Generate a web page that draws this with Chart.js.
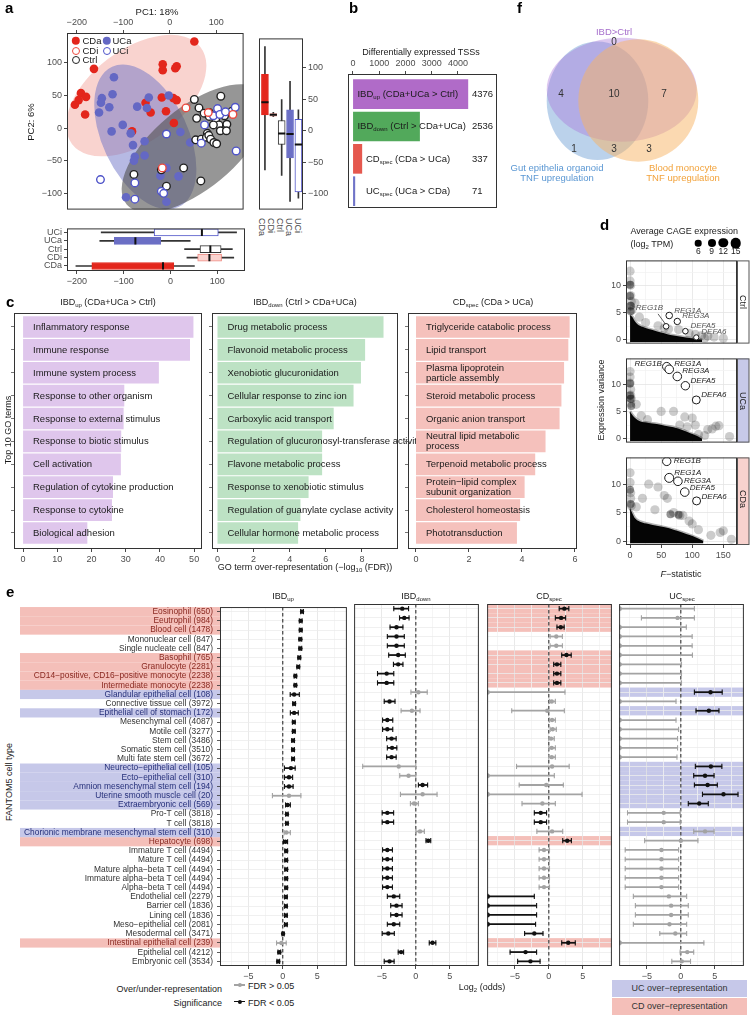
<!DOCTYPE html>
<html lang="en">
<head>
<meta charset="UTF-8">
<title>IBD CAGE expression figure</title>
<script src="https://cdn.jsdelivr.net/npm/chart.js"></script>
<style>
  body { margin: 0; background: #fff; }
  #fig { position: relative; width: 750px; height: 1015px; overflow: hidden; font-family: "Liberation Sans", Arial, Helvetica, sans-serif; color: #1a1a1a; }
  #fig canvas { position: absolute; }
  .t { position: absolute; white-space: nowrap; font-size: 9px; line-height: 1.15; }
  .t sub { font-size: 6px; vertical-align: -2px; line-height: 0; }
  .pl { font-weight: bold; font-size: 15px; color: #000; }
  .dot { position: absolute; border-radius: 50%; transform: translate(-50%, -50%); box-sizing: border-box; }
  .box { position: absolute; font-size: 9px; color: #333; text-align: center; }
</style>
</head>
<body>
<div id="fig"></div>
<script>
// ---------- a: PCA (PC1, PC2) ----------
const pcaCDa = [[53,133],[-163,91],[-15,98],[-15,89],[15,95],[12,92],[-191,54],[-196,43],[-204,36],[-180,48],[-182,21],[-52,39],[-41,24],[-17,47],[-8,26],[8,46],[15,43],[9,8],[-81,-5],[-16,-63]];
const pcaCDi = [[35,31],[83,24],[136,21],[-16,-61]];
const pcaUCa = [[-120,78],[-123,52],[-146,46],[-148,39],[-152,24],[-130,32],[-70,33],[-45,47],[-49,31],[-2,50],[-101,5],[-125,-5],[-84,-8],[-79,-26],[-54,-20],[23,-6],[44,-22],[-75,-44],[-77,-50],[-54,-42],[-7,-61],[-20,-73],[19,-74],[-94,-106],[-7,-113]];
const pcaUCi = [[-149,-79],[-75,-84],[-75,-109],[-18,-97],[-13,-100],[-7,-9],[68,-23],[75,5],[103,30],[94,19],[108,21],[120,25],[141,32],[143,-35]];
const pcaCtrl = [[53,44],[63,31],[74,23],[85,24],[110,49],[58,15],[85,18],[99,14],[118,19],[106,5],[123,6],[94,5],[109,-4],[122,-4],[81,-8],[56,-18],[68,-17],[79,-14],[84,-11],[88,-17],[95,-22],[101,-24],[134,26],[-77,-71],[-18,-64],[30,-61],[-7,-89],[67,-81]];
// confidence ellipses: centre and two conjugate semi-axes, in PC units
const pcaEllipses = [
  { group: 'CDa', c: [-72, 50], u: [138, 74.6], v: [61, -56] },
  { group: 'UCa', c: [-52.5, -13.4], u: [71.4, -107.7], v: [-83.5, -27.4] },
  { group: 'Ctrl', c: [53, -31], u: [145.6, 86], v: [57, -47.8] }
];
const boxGroups = ['CDa', 'CDi', 'Ctrl', 'UCa', 'UCi'];
const pc2Min = [-62, 22, -71, -112, -107];
const pc2Q1 = [25, 23, -22, -43, -97];
const pc2Med = [45, 25, -4.5, -5.4, -22];
const pc2Q3 = [89, 27, 16, 33, 18];
const pc2Max = [133, 29, 49, 78, 33];
const pc1Min = [-202, 35, 30, -151, -148];
const pc1Q1 = [-168, 58, 63, -120, -35];
const pc1Med = [-16, 83, 85, -75, 67];
const pc1Q3 = [7, 109, 108, -21, 102];
const pc1Max = [51, 135, 132, 42, 141];

// ---------- b: differentially expressed TSSs ----------
const degBase = ['IBD', 'IBD', 'CD', 'UC'];
const degSub = ['up', 'down', 'spec', 'spec'];
const degDesc = ['(CDa+UCa > Ctrl)', '(Ctrl > CDa+UCa)', '(CDa > UCa)', '(UCa > CDa)'];
const degCounts = [4376, 2536, 337, 71];
const degTicks = [0, 1000, 2000, 3000, 4000];

// ---------- f: Venn ----------
const vennSets = ['IBD&gt;Ctrl', 'Gut epithelia organoid<br>TNF upregulation', 'Blood monocyte<br>TNF upregulation'];
const vennCounts = [0, 4, 10, 7, 1, 3, 3];

// ---------- c: top 10 GO terms ----------
const goUpTerms = [['Inflammatory response'], ['Immune response'], ['Immune system process'], ['Response to other organism'], ['Response to external stimulus'], ['Response to biotic stimulus'], ['Cell activation'], ['Regulation of cytokine production'], ['Response to cytokine'], ['Biological adhesion']];
const goUpScore = [49.7, 48.7, 39.6, 29.5, 29.3, 28.6, 28.5, 26.2, 25.9, 18.7];
const goDownTerms = [['Drug metabolic process'], ['Flavonoid metabolic process'], ['Xenobiotic glucuronidation'], ['Cellular response to zinc ion'], ['Carboxylic acid transport'], ['Regulation of glucuronosyl-transferase activity'], ['Flavone metabolic process'], ['Response to xenobiotic stimulus'], ['Regulation of guanylate cyclase activity'], ['Cellular hormone metabolic process']];
const goDownScore = [9.18, 8.16, 7.93, 7.52, 6.42, 5.78, 5.78, 5.03, 4.58, 4.45];
const goCDTerms = [['Triglyceride catabolic process'], ['Lipid transport'], ['Plasma lipoprotein', 'particle assembly'], ['Steroid metabolic process'], ['Organic anion transport'], ['Neutral lipid metabolic', 'process'], ['Terpenoid metabolic process'], ['Protein\u2212lipid complex', 'subunit organization'], ['Cholesterol homeostasis'], ['Phototransduction']];
const goCDScore = [5.79, 5.74, 5.58, 5.48, 5.41, 4.88, 4.49, 4.09, 3.92, 3.8];

// ---------- d: F-statistic vs expression variance ----------
const dGenes = ['REG1B', 'REG1A', 'REG3A', 'DEFA5', 'DEFA6'];
const ctrlGeneF = [58, 63, 76, 89, 106.5], ctrlGeneVar = [2.5, 4.5, 3.4, 1.6, 0.45];
const ucaGeneF = [59, 63, 76, 89, 106.5], ucaGeneVar = [13.2, 12.7, 11.4, 9.7, 7.1];
const cdaGeneF = [59, 63, 77, 88, 107], cdaGeneVar = [14.0, 11.1, 10.5, 8.6, 7.05];
const ctrlGeneSize = [2.8, 3.3, 3.2, 2.8, 2.6], ucaGeneSize = [4.2, 4.3, 4.3, 4.2, 4.0], cdaGeneSize = [4.2, 4.5, 4.3, 4.3, 4.0];
const ctrlCloud = [[0,4.6],[4,4.2],[8,3.4],[12,2.9],[20,2.4],[30,2.0],[40,1.7],[50,1.35],[60,1.05],[70,0.8],[80,0.6],[90,0.45],[100,0.3],[110,0.15],[116,0]];
const ucaCloud = [[0,5.0],[4,4.3],[8,3.8],[16,3.2],[30,2.9],[43,2.7],[56,2.4],[70,2.1],[84,1.6],[97,1.0],[106,0.6],[113,0.2],[116,0]];
const cdaCloud = [[0,5.8],[4,4.8],[8,4.0],[16,3.4],[30,3.0],[43,2.7],[56,2.4],[70,2.0],[84,1.5],[97,1.0],[106,0.6],[113,0.25],[118,0]];
const ctrlGrey = [[0,12.7],[0,10.9],[1,10.1],[1,8.2],[2,7.1],[1,6.2],[8,6.8],[3,5.5],[15,4.2],[25,3.2],[45,2.6],[55,2.2],[62,2.0],[78,1.9],[95,1.2],[105,1.0],[115,0.8],[125,0.7],[135,0.5],[150,0.3],[120,0.3]];
const ctrlDark = [[0,10.2],[0,8.1],[1,6.3],[1,5.3]];
const ucaGrey = [[0,12.3],[0,11.3],[0,10.2],[1,9.0],[1,8.0],[2,7.3],[1,6.5],[10,6.3],[18,4.2],[28,3.5],[50,5.0],[70,5.0],[88,4.0],[100,3.8],[80,2.5],[92,2.2],[105,2.5],[125,1.7],[132,1.8],[138,2.3],[143,2.4],[160,0.4],[110,0.8],[120,0.6]];
const ucaDark = [[0,10.1],[0,7.9],[1,7.3],[2,6.0]];
const cdaGrey = [[0,12.0],[0,10.3],[1,8.5],[1,7.5],[2,6.2],[30,10.0],[45,9.5],[55,8.0],[60,7.5],[20,7.5],[10,6.0],[40,5.5],[70,5.0],[80,4.5],[85,4.5],[95,3.5],[100,3.0],[130,1.0],[145,1.5],[150,1.8],[163,0.3],[110,2.0]];
const cdaDark = [[0,9.0],[1,6.5],[65,4.7],[78,4.6]];

// ---------- e: FANTOM5 cell type enrichment, log2 odds ----------
const cellTypes = ['Eosinophil (650)','Eeutrophil (984)','Blood cell (1478)','Mononuclear cell (847)','Single nucleate cell (847)','Basophil (765)','Granulocyte (2281)','CD14\u2212positive, CD16\u2212positive monocyte (2238)','Intermediate monocyte (2238)','Glandular epithelial cell (108)','Connective tissue cell (3972)','Epithelial cell of stomach (172)','Mesenchymal cell (4087)','Motile cell (3277)','Stem cell (3486)','Somatic stem cell (3510)','Multi fate stem cell (3672)','Neurecto\u2212epithelial cell (105)','Ecto\u2212epithelial cell (310)','Amnion mesenchymal stem cell (194)','Uterine smooth muscle cell (20)','Extraembryonic cell (569)','Pro-T cell (3818)','T cell (3818)','Chorionic membrane mesenchymal stem cell (310)','Hepatocyte (698)','Immature T cell (4494)','Mature T cell (4494)','Mature alpha\u2212beta T cell (4494)','Immature alpha\u2212beta T cell (4494)','Alpha\u2212beta T cell (4494)','Endothelial cell (2279)','Barrier cell (1836)','Lining cell (1836)','Meso\u2212epithelial cell (2081)','Mesodermal cell (3471)','Intestinal epithelial cell (239)','Epithelial cell (4212)','Embryonic cell (3534)'];
const cdRows = [1, 2, 3, 6, 7, 8, 9, 26, 37];
const ucRows = [10, 12, 18, 19, 20, 21, 22, 25];
const upEst = [2.8,2.6,2.6,2.55,2.55,2.4,2.25,1.83,1.83,1.65,1.65,1.65,1.6,1.6,1.5,1.5,1.5,1.18,0.9,0.9,0.9,0.7,0.6,0.6,0.52,0.38,0.5,0.5,0.5,0.5,0.5,0.45,0.45,0.45,0.45,0.05,-0.2,-0.5,-0.65];
const upLo = [2.6,2.4,2.4,2.35,2.35,2.2,2.05,1.65,1.65,1.08,1.45,1.1,1.4,1.4,1.3,1.3,1.3,0.24,0.24,0.24,-1.5,0.4,0.42,0.42,0.2,0.1,0.3,0.3,0.3,0.3,0.3,0.25,0.25,0.25,0.25,-0.1,-0.9,-0.7,-0.85];
const upHi = [3.0,2.8,2.8,2.75,2.75,2.6,2.45,2.01,2.01,2.4,1.85,2.25,1.8,1.8,1.7,1.7,1.7,1.8,1.43,1.5,2.63,1.1,0.78,0.78,1.1,0.7,0.7,0.7,0.7,0.7,0.7,0.65,0.65,0.65,0.65,0.2,0.5,-0.3,-0.45];
const upSig = [1,1,1,1,1,1,1,1,1,1,1,1,1,1,1,1,1,1,1,1,0,1,1,1,0,1,1,1,1,1,1,1,1,1,1,1,0,1,1];
const downEst = [-2.0,-1.7,-2.85,-2.85,-2.85,-2.6,-2.6,-4.3,-4.3,0.38,-3.87,-0.58,-4.2,-4.2,-3.58,-3.5,-3.58,-2.52,-1.07,1.0,1.0,-0.25,-4.2,-4.2,0.62,1.83,-4.2,-4.2,-4.2,-4.2,-4.2,-3.25,-2.85,-2.85,-3.25,-4.06,2.46,-2.17,-3.87];
const downLo = [-3.25,-2.4,-3.8,-4.2,-4.2,-4.0,-3.3,-5.65,-5.65,-0.72,-4.66,-2.17,-4.9,-4.9,-4.3,-4.2,-4.3,-7.83,-2.37,0.38,-2.27,-0.8,-4.96,-4.96,0,1.5,-4.9,-4.9,-4.9,-4.9,-4.9,-4.2,-3.7,-3.7,-4.2,-4.96,1.98,-2.6,-4.66];
const downHi = [-1.07,-1.0,-1.9,-1.7,-1.7,-1.55,-1.9,-3.25,-3.25,1.68,-3.07,0.62,-3.4,-3.4,-2.9,-2.8,-2.9,0,0,1.74,3.13,0.38,-3.27,-3.27,1.26,2.2,-3.45,-3.45,-3.45,-3.45,-3.45,-2.37,-2.03,-2.03,-2.37,-3.17,2.95,-1.8,-3.2];
const downSig = [1,1,1,1,1,1,1,1,1,0,1,0,1,1,1,1,1,0,0,1,0,0,1,1,0,1,1,1,1,1,1,1,1,1,1,1,1,1,1];
const cdEst = [2.29,1.81,1.76,1.1,1.1,2.6,1.2,1.2,1.2,-9,0.43,-0.23,0.48,0.57,0.33,0.43,0.43,0.48,-9,-0.38,-9,-0.95,-1.19,-1.19,0.48,2.71,-0.71,-0.71,-0.71,-0.71,-0.71,-9,-9,-9,-9,-2.14,2.86,-3.43,-2.71];
const cdLo = [1.53,0.96,1.2,0.19,0.19,1.9,0.72,0.72,0.72,-9,0.11,-5.47,0.11,0.2,0.0,0.0,0.0,-4.76,-9,-4.37,-9,-3.95,-2.14,-2.14,-1.76,2.05,-1.43,-1.43,-1.43,-1.43,-1.43,-9,-9,-9,-9,-3.57,1.9,-5.71,-4.6];
const cdHi = [2.95,2.48,2.26,2.0,2.0,3.3,1.77,1.77,1.77,2.38,0.96,2.29,0.96,1.1,0.8,0.96,0.96,3.0,0.81,2.14,4.9,0.96,-0.33,-0.33,2.05,3.33,0.1,0.1,0.1,0.1,0.1,-2.14,-1.8,-1.8,-1.95,-0.86,3.9,-1.8,-1.29];
const cdSig = [1,1,1,0,0,1,1,1,1,0,0,0,0,0,0,0,0,0,0,0,0,0,1,1,0,1,0,0,0,0,0,1,1,1,1,1,1,1,1];
const ucEst = [-9,-0.48,-9,-9,-9,-9,-9,-9,-9,4.38,-9,4.14,-9,-9,-9,-9,-9,4.43,3.57,3.95,6.29,2.71,-2.52,-2.52,3.57,0,-2.86,-2.86,-2.86,-2.86,-2.86,-1.76,-1.43,-1.43,-1.67,-0.81,-9,0.95,0.14];
const ucLo = [-9,-5.81,-9,-9,-9,-9,-9,-9,-9,2.0,-9,2.24,-9,-9,-9,-9,-9,2.14,1.9,2.0,3.19,1.1,-7.86,-7.86,1.9,-5.33,-8.2,-8.2,-8.2,-8.2,-8.2,-7.0,-6.7,-6.7,-7.0,-3.1,-9,-0.1,-1.33];
const ucHi = [2.0,2.0,0.81,1.67,1.67,1.71,0.1,0.1,0.1,6.1,-0.71,5.62,-0.71,-0.33,-0.48,-0.48,-0.57,6.05,4.9,5.38,8.43,4.05,-0.1,-0.1,4.9,2.52,-0.33,-0.33,-0.33,-0.33,-0.33,0.86,1.1,1.1,0.86,0.86,3.4,1.9,1.43];
const ucSig = [0,0,0,0,0,0,0,0,0,1,0,1,0,0,0,0,0,1,1,1,1,1,0,0,0,0,0,0,0,0,0,0,0,0,0,0,0,0,0];

// ---------- styles ----------
const COL = { CDa: '#e3261c', CDi: '#ec4a3f', Ctrl: '#222', UCa: '#6468c4', UCi: '#4f54c9' };
const ELL_COL = { CDa: 'rgba(238,140,130,0.38)', UCa: 'rgba(110,115,200,0.5)', Ctrl: 'rgba(80,80,80,0.6)' };
const BOX_FILL = { CDa: '#e3261c', CDi: '#fbd3cf', Ctrl: '#fff', UCa: '#6b6fc5', UCi: '#fff' };
const BOX_LINE = { CDa: '#e3261c', CDi: '#ee8a82', Ctrl: '#333', UCa: '#6b6fc5', UCi: '#4f54c9' };
const DEG_COL = ['#b06bc8', '#52a95b', '#e5584e', '#7074c8'];
const VENN_COL = ['rgba(165,110,215,0.38)', 'rgba(120,165,215,0.5)', 'rgba(248,180,100,0.5)'];
const CD_BAND = '#f4bfb9', UC_BAND = '#c6c8e9';

const fig = document.getElementById('fig');
Chart.defaults.font.family = '"Liberation Sans", Arial, Helvetica, sans-serif';
Chart.defaults.font.size = 9;
Chart.defaults.color = '#4d4d4d';
Chart.defaults.plugins.legend.display = false;
Chart.defaults.plugins.tooltip.enabled = false;
Chart.defaults.animation = false;

const fmt = v => (v < 0 ? '\u2212' + (-v) : String(v));
const xy = arr => arr.map(p => ({ x: p[0], y: p[1] }));

// panel decorations: bands, ellipses, dashed zero line, frame, facet strip
Chart.register({
  id: 'deco',
  defaults: {},
  beforeDraw(chart, args, o) {
    const a = chart.chartArea, ctx = chart.ctx, ys = chart.scales.y;
    (o.bands || []).forEach(b => {
      const h = Math.abs(ys.getPixelForValue(1) - ys.getPixelForValue(0));
      const x0 = b.where === 'left' ? 0 : a.left, x1 = b.where === 'left' ? a.left : a.right;
      ctx.fillStyle = b.color;
      b.rows.forEach(r => { ctx.fillRect(x0, ys.getPixelForValue(r - 1) - h / 2, x1 - x0, h); });
    });
  },
  beforeDatasetsDraw(chart, args, o) {
    const a = chart.chartArea, ctx = chart.ctx, xs = chart.scales.x, ys = chart.scales.y;
    if (o.ellipses) {
      ctx.save();
      if (o.clip !== false) { ctx.beginPath(); ctx.rect(a.left, a.top, a.width, a.height); ctx.clip(); }
      o.ellipses.forEach(e => {
        const cx = xs.getPixelForValue(e.c[0]), cy = ys.getPixelForValue(e.c[1]);
        const ux = xs.getPixelForValue(e.c[0] + e.u[0]) - cx, uy = ys.getPixelForValue(e.c[1] + e.u[1]) - cy;
        const vx = xs.getPixelForValue(e.c[0] + e.v[0]) - cx, vy = ys.getPixelForValue(e.c[1] + e.v[1]) - cy;
        ctx.save();
        ctx.beginPath();
        ctx.transform(ux, uy, vx, vy, cx, cy);
        ctx.arc(0, 0, 1, 0, Math.PI * 2);
        ctx.restore();
        ctx.fillStyle = e.color;
        ctx.fill();
      });
      ctx.restore();
    }
    if (o.zero) {
      const x = xs.getPixelForValue(0);
      ctx.save();
      ctx.strokeStyle = '#333'; ctx.lineWidth = 1.1; ctx.setLineDash([3.5, 2.5]);
      ctx.beginPath(); ctx.moveTo(x, a.top); ctx.lineTo(x, a.bottom); ctx.stroke();
      ctx.restore();
    }
    (o.lines || []).forEach(l => {
      ctx.save();
      ctx.strokeStyle = '#333'; ctx.lineWidth = 0.8;
      ctx.beginPath();
      ctx.moveTo(xs.getPixelForValue(l[0]), ys.getPixelForValue(l[1]));
      ctx.lineTo(xs.getPixelForValue(l[2]), ys.getPixelForValue(l[3]));
      ctx.stroke();
      ctx.restore();
    });
  },
  afterDatasetsDraw(chart, args, o) {
    const a = chart.chartArea, ctx = chart.ctx;
    if (o.strip) {
      ctx.fillStyle = o.strip;
      ctx.fillRect(a.right, a.top, 12, a.height);
      ctx.strokeStyle = '#555'; ctx.lineWidth = 1;
      ctx.strokeRect(a.right + 0.5, a.top + 0.5, 11.5, a.height - 1);
    }
    if (o.frame) {
      ctx.strokeStyle = '#333'; ctx.lineWidth = 1;
      ctx.strokeRect(a.left + 0.5, a.top + 0.5, a.width - 1, a.height - 1);
    }
  }
});

// canvas sized so the plot area is exactly rect; m = [left, top, right, bottom] room for axes
function makeChart(rect, m, cfg) {
  const w = rect[2] - rect[0] + m[0] + m[2], h = rect[3] - rect[1] + m[1] + m[3];
  const cv = document.createElement('canvas');
  cv.width = w; cv.height = h;
  cv.style.cssText = `left:${rect[0] - m[0]}px;top:${rect[1] - m[1]}px;width:${w}px;height:${h}px`;
  fig.appendChild(cv);
  const o = cfg.options = cfg.options || {};
  Object.assign(o, { responsive: false, maintainAspectRatio: false, devicePixelRatio: 1, animation: false });
  const pad = { left: m[0], top: m[1], right: m[2], bottom: m[3] };
  Object.entries(o.scales || {}).forEach(([id, s]) => {
    if (s.display === false) return;
    const side = s.position || (id === 'x' ? 'bottom' : 'left');
    const size = pad[side];
    pad[side] = 0;
    s.afterFit = sc => { if (sc.isHorizontal()) sc.height = size; else sc.width = size; };
  });
  o.layout = { padding: pad };
  return new Chart(cv, cfg);
}

function linAxis(pos, min, max, ticks, opt = {}) {
  return {
    type: 'linear', position: pos, min, max, offset: false, reverse: !!opt.reverse,
    display: opt.display !== undefined ? opt.display : true,
    afterBuildTicks: s => { s.ticks = (ticks || []).map(v => ({ value: v })); },
    ticks: { display: opt.labels !== false, callback: opt.callback || fmt, padding: 2, maxRotation: 0, minRotation: 0, autoSkip: false, color: '#4d4d4d', font: { size: 9 } },
    grid: { offset: false, display: true, drawOnChartArea: !!opt.gridColor, color: opt.gridColor || '#000', lineWidth: 0.8,
            drawTicks: opt.marks !== false, tickLength: 3, tickColor: opt.tickColor || '#333', tickWidth: 0.9 },
    border: { display: false }
  };
}

function at(ch, xv, yv) {
  return [parseFloat(ch.canvas.style.left) + ch.scales.x.getPixelForValue(xv),
          parseFloat(ch.canvas.style.top) + ch.scales.y.getPixelForValue(yv)];
}
function txt(x, y, html, anchor, css) {
  const d = document.createElement('div');
  d.className = 't';
  d.innerHTML = html;
  const tx = { l: '0', c: '-50%', r: '-100%' }[anchor || 'l'];
  d.style.cssText = `left:${x}px;top:${y}px;transform:translate(${tx},-50%);` + (css || '');
  fig.appendChild(d);
  return d;
}
function rtxt(x, y, html, deg, css) {
  const d = txt(x, y, html, 'c', css);
  d.style.transform = `translate(-50%,-50%) rotate(${deg}deg)`;
  return d;
}
function dot(x, y, r, fill, line) {
  const d = document.createElement('div');
  d.className = 'dot';
  d.style.cssText = `left:${x}px;top:${y}px;width:${2 * r}px;height:${2 * r}px;background:${fill};` + (line ? `border:1.4px solid ${line};` : '');
  fig.appendChild(d);
}

// ================= panel a =================
const filled = (arr, c, order) => ({ data: xy(arr), pointRadius: 4.3, pointBackgroundColor: c, pointBorderWidth: 0, order });
const open = (arr, c, order) => ({ data: xy(arr), pointRadius: 3.8, pointBackgroundColor: '#fff', pointBorderColor: c, pointBorderWidth: 1.4, order });
makeChart([67, 33, 247, 215], [36, 26, 2, 2], {
  type: 'scatter',
  data: { datasets: [open(pcaCDi, COL.CDi, 1), open(pcaUCi, COL.UCi, 2), open(pcaCtrl, COL.Ctrl, 3), filled(pcaUCa, COL.UCa, 4), filled(pcaCDa, COL.CDa, 5)] },
  options: {
    scales: { x: linAxis('top', -221, 159, [-200, -100, 0, 100]), y: linAxis('left', -125, 146, [-100, -50, 0, 50, 100]) },
    plugins: { deco: { frame: true, ellipses: pcaEllipses.map(e => ({ c: e.c, u: e.u, v: e.v, color: ELL_COL[e.group] })) } }
  }
});

function boxSets(mn, q1, md, q3, mx, horiz) {
  const P = (i, a, b) => (horiz ? { x: [a, b], y: i + 1 } : { x: i + 1, y: [a, b] });
  const M = (i, v) => (horiz ? { x: v, y: i + 1 } : { x: i + 1, y: v });
  const ia = horiz ? 'y' : 'x';
  return [
    { type: 'scatter', data: md.map((v, i) => M(i, v)), pointStyle: 'line', pointRadius: 3.6, pointRotation: horiz ? 90 : 0, pointBorderColor: '#111', pointBorderWidth: 2, order: 1 },
    { type: 'bar', indexAxis: ia, data: q1.map((v, i) => P(i, v, q3[i])), backgroundColor: boxGroups.map(g => BOX_FILL[g]), borderColor: boxGroups.map(g => BOX_LINE[g]), borderWidth: 1, borderSkipped: false, barThickness: 7, grouped: false, order: 2 },
    { type: 'bar', indexAxis: ia, data: mn.map((v, i) => P(i, v, mx[i])), backgroundColor: '#333', barThickness: 1, grouped: false, order: 3 }
  ];
}
makeChart([255, 33, 303, 215], [2, 2, 26, 2], {
  type: 'bar',
  data: { datasets: boxSets(pc2Min, pc2Q1, pc2Med, pc2Q3, pc2Max, false) },
  options: {
    scales: { x: linAxis('bottom', 0.29, 5.55, null, { display: false }), y: linAxis('right', -125, 146, [-100, -50, 0, 50, 100]) },
    plugins: { deco: { frame: true } }
  }
});
makeChart([67, 223, 247, 271], [34, 2, 4, 14], {
  type: 'bar',
  data: { datasets: boxSets(pc1Min, pc1Q1, pc1Med, pc1Q3, pc1Max, true) },
  options: {
    indexAxis: 'y',
    scales: { x: linAxis('bottom', -221, 159, [-200, -100, 0, 100]), y: linAxis('left', 0.4, 5.48, [1, 2, 3, 4, 5], { callback: v => boxGroups[v - 1] }) },
    plugins: { deco: { frame: true } }
  }
});
boxGroups.forEach((g, i) => {
  const d = txt(261.5 + i * 9.1, 218, g, 'l', 'color:#4d4d4d;transform-origin:0 0;');
  d.style.transform = 'rotate(90deg) translate(0,-50%)';
});
txt(157, 12, 'PC1: 18%', 'c', 'font-size:9.5px');
rtxt(31, 122, 'PC2: 6%', -90, 'font-size:9.5px');
dot(76, 41, 4.2, COL.CDa); txt(82.5, 41, 'CDa', 'l', 'font-size:9.5px');
dot(107, 41, 4.2, COL.UCa); txt(112.5, 41, 'UCa', 'l', 'font-size:9.5px');
dot(76, 50.7, 4, '#fff', COL.CDi); txt(82.5, 50.7, 'CDi', 'l', 'font-size:9.5px');
dot(107, 50.7, 4, '#fff', COL.UCi); txt(112.5, 50.7, 'UCi', 'l', 'font-size:9.5px');
dot(76, 60.3, 4, '#fff', COL.Ctrl); txt(82.5, 60.3, 'Ctrl', 'l', 'font-size:9.5px');

// ================= panel b =================
const bCh = makeChart([348, 74, 497, 208], [10, 20, 4, 2], {
  type: 'bar',
  data: { datasets: [{ indexAxis: 'y', data: degCounts.map((v, i) => ({ x: v, y: i + 1 })), backgroundColor: DEG_COL, barThickness: 29 }] },
  options: {
    indexAxis: 'y',
    scales: { x: linAxis('top', -190, 5486, degTicks), y: linAxis('left', 0.377, 4.52, null, { reverse: true, display: false }) },
    plugins: { deco: { frame: true } }
  }
});
txt(421, 52, 'Differentially expressed TSSs', 'c', 'font-size:9px');
degCounts.forEach((v, i) => {
  const [x0, y] = at(bCh, 0, i + 1);
  txt(x0 + (v > 1000 ? 4.5 : 13), y, `${degBase[i]}<sub>${degSub[i]}</sub> ${degDesc[i]}`, 'l', 'font-size:9.5px');
  txt(at(bCh, 4530, i + 1)[0], y, String(v), 'l', 'font-size:9.5px');
});

// ================= panel f (Venn) =================
const vennShapes = [
  { set: 1, c: [597.5, 100.8], u: [50.8, 0], v: [0, 59.2] },
  { set: 0, c: [621.7, 89.7], u: [75, 0], v: [0, 52] },
  { set: 2, c: [638.3, 100.5], u: [60, 0], v: [0, 61.2] }
];
const vennCountPos = [[614, 42], [561, 94], [614, 94], [664, 94], [574, 149], [614, 149], [649, 149]];
const venn = makeChart([540, 30, 705, 166], [0, 0, 0, 0], {
  type: 'scatter',
  data: { datasets: [{ data: [] }] },
  options: {
    scales: { x: linAxis('bottom', 540, 705, null, { display: false }), y: linAxis('left', 30, 166, null, { display: false, reverse: true }) },
    plugins: { deco: { clip: false, ellipses: vennShapes.map(s => ({ c: s.c, u: s.u, v: s.v, color: VENN_COL[s.set] })) } }
  }
});
vennCounts.forEach((n, i) => { const p = at(venn, vennCountPos[i][0], vennCountPos[i][1]); txt(p[0], p[1], String(n), 'c', 'font-size:10px;color:#333'); });
txt(614, 32, vennSets[0], 'c', 'font-size:9.5px;color:#a66fcc');
txt(557, 173, vennSets[1], 'c', 'font-size:9.5px;color:#5a97d3;text-align:center;line-height:10px');
txt(683, 173, vennSets[2], 'c', 'font-size:9.5px;color:#f2a23a;text-align:center;line-height:10px');

// ================= panel c =================
function goChart(rect, terms, scores, color, xmin, xmax, ticks) {
  const ch = makeChart(rect, [6, 2, 4, 14], {
    type: 'bar',
    data: { datasets: [{ indexAxis: 'y', data: scores.map((v, i) => ({ x: v, y: i + 1 })), backgroundColor: color, barThickness: 21 }] },
    options: {
      indexAxis: 'y',
      scales: { x: linAxis('bottom', xmin, xmax, ticks), y: linAxis('left', 0.39, 10.7, terms.map((t, i) => i + 1), { reverse: true, labels: false, tickColor: '#666' }) },
      plugins: { deco: { frame: true } }
    }
  });
  terms.forEach((t, i) => {
    const [x, y] = at(ch, 0, i + 1);
    txt(x + 10, y, t.join('<br>'), 'l', 'font-size:9.5px;line-height:10px;color:#1a1a1a');
  });
}
goChart([14, 313, 202, 549], goUpTerms, goUpScore, '#dfc6ec', -2.63, 52.3, [0, 10, 20, 30, 40, 50]);
goChart([212, 313, 398, 549], goDownTerms, goDownScore, '#bde2c4', -0.3, 10.0, [0, 2, 4, 6, 8]);
goChart([408, 313, 577, 549], goCDTerms, goCDScore, '#f5c1bc', -0.3, 6.08, [0, 2, 4, 6]);
txt(108, 302, 'IBD<sub>up</sub> (CDa+UCa &gt; Ctrl)', 'c');
txt(305, 302, 'IBD<sub>down</sub> (Ctrl &gt; CDa+UCa)', 'c');
txt(493, 302, 'CD<sub>spec</sub> (CDa &gt; UCa)', 'c');
txt(305, 567, 'GO term over-representation (\u2212log<sub>10</sub> (FDR))', 'c');
rtxt(8, 430, 'Top 10 GO terms', -90);

// ================= panel d =================
const geneLabelOffset = { Ctrl: [[-16.7, -18.7, 'c'], [5, -5, 'l'], [5, -5, 'l'], [5, -5, 'l'], [5, -5, 'l']],
                          UCa: [[-5, -3, 'r'], [5, -5, 'l'], [5, -5, 'l'], [5, -5, 'l'], [5, -5, 'l']],
                          CDa: [[7, 0, 'l'], [5, -5, 'l'], [6, 0, 'l'], [5, -4, 'l'], [5, -4, 'l']] };
function dPanel(name, rect, m, cloud, grey, dark, gF, gV, gR, strip, showX, lines, labelCol) {
  const minorX = c => (c.tick && c.tick.value % 50 ? '#f3f3f3' : '#e5e5e5');
  const minorY = c => (c.tick && c.tick.value % 5 ? '#f3f3f3' : '#e5e5e5');
  const ch = makeChart(rect, m, {
    type: 'scatter',
    data: { datasets: [
      { data: gF.map((f, i) => ({ x: f, y: gV[i] })), pointRadius: gR, pointBackgroundColor: '#fff', pointBorderColor: '#1a1a1a', pointBorderWidth: 1, order: 0 },
      { data: xy(dark), pointRadius: 4, pointBackgroundColor: 'rgba(0,0,0,0.42)', pointBorderWidth: 0, order: 1 },
      { type: 'line', data: xy(cloud), fill: { value: -0.4 }, backgroundColor: '#050505', borderColor: 'rgba(0,0,0,0.3)', borderWidth: 3, pointRadius: 0, cubicInterpolationMode: 'monotone', order: 2 },
      { data: xy(grey), pointRadius: 4.6, pointBackgroundColor: 'rgba(0,0,0,0.2)', pointBorderWidth: 0, order: 3 }
    ] },
    options: {
      scales: {
        x: linAxis('bottom', -6.5, 172, [0, 25, 50, 75, 100, 125, 150], { labels: showX, marks: showX, callback: v => (v % 50 ? '' : fmt(v)), gridColor: minorX, tickColor: c => (c.tick && c.tick.value % 50 ? 'rgba(0,0,0,0)' : '#333') }),
        y: linAxis('left', -0.7, 14.7, [0, 2.5, 5, 7.5, 10, 12.5], { callback: v => (v % 5 ? '' : fmt(v)), gridColor: minorY, tickColor: c => (c.tick && c.tick.value % 5 ? 'rgba(0,0,0,0)' : '#333') })
      },
      plugins: { deco: { frame: true, strip, lines } }
    }
  });
  dGenes.forEach((g, i) => {
    const [x, y] = at(ch, gF[i], gV[i]);
    const off = geneLabelOffset[name][i];
    txt(x + off[0], y + off[1], g, off[2], `font-size:8px;font-style:italic;color:${labelCol}`);
  });
  rtxt(rect[2] + 6, (rect[1] + rect[3]) / 2, name, 90, 'font-size:9px;color:#222');
  return ch;
}
dPanel('Ctrl', [626, 255, 737, 349], [14, 2, 14, 2], ctrlCloud, ctrlGrey, ctrlDark, ctrlGeneF, ctrlGeneVar, ctrlGeneSize, '#ffffff', false, [[45, 4.8, 57, 2.9]], '#555');
dPanel('UCa', [626, 353, 737, 448], [14, 2, 14, 2], ucaCloud, ucaGrey, ucaDark, ucaGeneF, ucaGeneVar, ucaGeneSize, '#c7c9e9', false, [], '#222');
dPanel('CDa', [626, 452, 737, 545], [14, 2, 14, 14], cdaCloud, cdaGrey, cdaDark, cdaGeneF, cdaGeneVar, cdaGeneSize, '#f8d2ce', true, [], '#222');
txt(630.5, 231, 'Average CAGE expression', 'l');
txt(630.5, 243.5, '(log<sub>2</sub> TPM)', 'l');
[[698.3, 3.3, '6'], [711.7, 4, '9'], [723.3, 4.7, '12'], [735.7, 5.3, '15']].forEach(s => { dot(s[0], 243, s[1], '#000'); txt(s[0], 252, s[2], 'c', 'font-size:8.5px'); });
rtxt(601, 400, 'Expression variance', -90);
txt(681, 574, '<i>F</i>\u2212statistic', 'c');

// ================= panel e =================
const labelCol = cellTypes.map((_, i) => (cdRows.includes(i + 1) ? '#8a2a22' : ucRows.includes(i + 1) ? '#26307a' : '#333'));
function oddsChart(rect, m, est, lo, hi, sig, bands, withLabels) {
  const col = sig.map(s => (s ? '#111' : '#a3a3a3'));
  const caps = [], capCol = [];
  lo.forEach((v, i) => { caps.push({ x: v, y: cellTypes[i] }, { x: hi[i], y: cellTypes[i] }); capCol.push(col[i], col[i]); });
  return makeChart(rect, m, {
    type: 'bar',
    data: { labels: cellTypes, datasets: [
      { type: 'scatter', indexAxis: 'x', data: est.map((v, i) => ({ x: v, y: cellTypes[i] })), pointRadius: 2.2, pointBackgroundColor: col, pointBorderWidth: 0, order: 1 },
      { type: 'scatter', indexAxis: 'x', data: caps, pointStyle: 'line', pointRotation: 90, pointRadius: 2.6, pointBorderColor: capCol, pointBorderWidth: 1.1, order: 2 },
      { type: 'bar', indexAxis: 'y', data: lo.map((v, i) => [v, hi[i]]), backgroundColor: col, barThickness: 1.1, grouped: false, order: 3 }
    ] },
    options: {
      indexAxis: 'y',
      scales: {
        x: linAxis('bottom', -9.1, 9.3, [-7.5, -5, -2.5, 0, 2.5, 5, 7.5], { callback: v => (v % 5 ? '' : fmt(v)), gridColor: c => (c.tick && c.tick.value % 5 ? '#f3f3f3' : '#e3e3e3'), tickColor: c => (c.tick && c.tick.value % 5 ? 'rgba(0,0,0,0)' : '#333') }),
        y: { type: 'category', position: 'left', offset: true,
             ticks: { display: withLabels, autoSkip: false, padding: 4, color: c => labelCol[c.index], font: { size: 8.4 } },
             grid: { offset: false, color: '#ececec', lineWidth: 0.8, drawTicks: withLabels, tickLength: 3, tickColor: '#333' },
             border: { display: false } }
      },
      plugins: { deco: { frame: true, zero: true, bands } }
    }
  });
}
oddsChart([220, 604, 348, 966], [200, 6, 4, 14], upEst, upLo, upHi, upSig,
  [{ rows: cdRows, color: CD_BAND, where: 'left' }, { rows: ucRows, color: UC_BAND, where: 'left' }], true);
oddsChart([353, 604, 480, 966], [4, 6, 4, 14], downEst, downLo, downHi, downSig, [], false);
oddsChart([486, 604, 613, 966], [4, 6, 4, 14], cdEst, cdLo, cdHi, cdSig, [{ rows: cdRows, color: CD_BAND }], false);
oddsChart([618, 604, 747, 966], [4, 6, 2, 14], ucEst, ucLo, ucHi, ucSig, [{ rows: ucRows, color: UC_BAND }], false);
txt(283, 596, 'IBD<sub>up</sub>', 'c');
txt(416, 596, 'IBD<sub>down</sub>', 'c');
txt(549, 596, 'CD<sub>spec</sub>', 'c');
txt(682, 596, 'UC<sub>spec</sub>', 'c');
rtxt(8.5, 782, 'FANTOM5 cell type', -90);
txt(482, 987, 'Log<sub>2</sub> (odds)', 'c');
txt(222, 989, 'Over/under-representation', 'r');
txt(222, 1003, 'Significance', 'r');
[[985, '#a3a3a3', 'FDR &gt; 0.05'], [1001.5, '#111', 'FDR &lt; 0.05']].forEach(k => {
  const ln = document.createElement('div');
  ln.style.cssText = `position:absolute;left:234px;top:${k[0] - 0.6}px;width:11px;height:1.2px;background:${k[1]}`;
  fig.appendChild(ln);
  dot(240, k[0], 2.1, k[1]);
  txt(248, k[0] + 1, k[2], 'l');
});
[['UC over\u2212representation', UC_BAND, 980], ['CD over\u2212representation', CD_BAND, 998]].forEach(b => {
  const d = document.createElement('div');
  d.className = 'box';
  d.style.cssText = `left:612px;top:${b[2]}px;width:135px;height:17px;line-height:17px;background:${b[1]}`;
  d.textContent = b[0];
  fig.appendChild(d);
});

// panel letters
[['a', 5, 8], ['b', 349, 8], ['f', 517, 8], ['c', 6, 302], ['d', 600, 225], ['e', 6, 592]].forEach(p => {
  const d = txt(p[1], p[2], p[0], 'l');
  d.classList.add('pl');
});
</script>
</body>
</html>
